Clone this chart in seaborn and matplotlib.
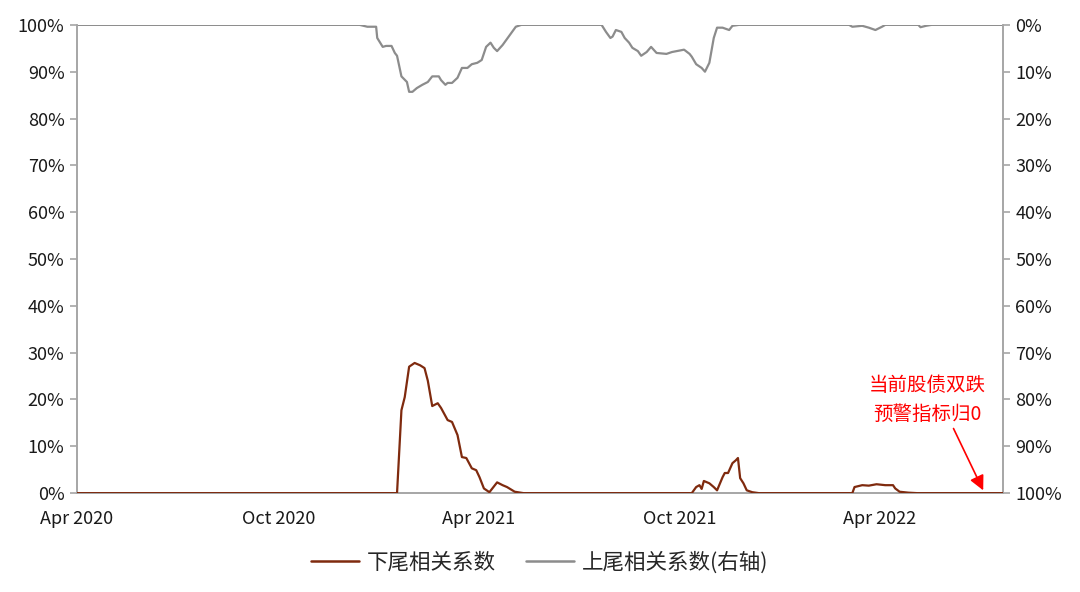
import matplotlib
matplotlib.use('Agg')
import matplotlib.pyplot as plt
import matplotlib.dates as mdates
from matplotlib.lines import Line2D
from matplotlib.ticker import FuncFormatter, MultipleLocator
import seaborn as sns
import pandas as pd

# 下尾相关系数 (left axis, %)
lower_dates = ['2020-04-01', '2021-01-17', '2021-01-21', '2021-01-24', '2021-01-28', '2021-02-02',
               '2021-02-07', '2021-02-11', '2021-02-14', '2021-02-18', '2021-02-23', '2021-02-26',
               '2021-03-04', '2021-03-08', '2021-03-13', '2021-03-17', '2021-03-21', '2021-03-26',
               '2021-03-30', '2021-04-02', '2021-04-06', '2021-04-11', '2021-04-18', '2021-04-23',
               '2021-04-27', '2021-05-04', '2021-05-12', '2021-10-12', '2021-10-16', '2021-10-19',
               '2021-10-21', '2021-10-23', '2021-10-28', '2021-11-01', '2021-11-04', '2021-11-09',
               '2021-11-11', '2021-11-14', '2021-11-18', '2021-11-21', '2021-11-23', '2021-11-25',
               '2021-11-28', '2021-12-01', '2021-12-06', '2021-12-12', '2022-03-07', '2022-03-09',
               '2022-03-16', '2022-03-22', '2022-03-29', '2022-04-06', '2022-04-13', '2022-04-15',
               '2022-04-19', '2022-04-27', '2022-05-05', '2022-07-22']
lower_vals = [0, 0, 17.7, 20.5, 27.0, 27.8,
              27.3, 26.7, 24.0, 18.6, 19.2, 18.2,
              15.6, 15.2, 12.4, 7.7, 7.5, 5.3,
              4.9, 3.4, 1.0, 0.2, 2.3, 1.7,
              1.3, 0.3, 0, 0, 1.3, 1.7,
              0.9, 2.6, 2.1, 1.3, 0.6, 3.4,
              4.3, 4.3, 6.4, 7.0, 7.5, 3.2,
              2.1, 0.6, 0.2, 0, 0, 1.3,
              1.7, 1.6, 1.9, 1.7, 1.7, 1.0,
              0.3, 0.1, 0, 0]

# 上尾相关系数 (right axis, inverted, %)
upper_dates = ['2020-04-01', '2020-12-14', '2020-12-21', '2020-12-29', '2020-12-30', '2021-01-04',
               '2021-01-07', '2021-01-12', '2021-01-15', '2021-01-17', '2021-01-21', '2021-01-26',
               '2021-01-28', '2021-01-31', '2021-02-04', '2021-02-09', '2021-02-14', '2021-02-18',
               '2021-02-24', '2021-02-26', '2021-03-02', '2021-03-04', '2021-03-08', '2021-03-13',
               '2021-03-17', '2021-03-22', '2021-03-26', '2021-03-31', '2021-04-04', '2021-04-08',
               '2021-04-12', '2021-04-15', '2021-04-18', '2021-04-23', '2021-04-27', '2021-05-01',
               '2021-05-05', '2021-05-10', '2021-07-22', '2021-07-26', '2021-07-30', '2021-08-01',
               '2021-08-04', '2021-08-09', '2021-08-12', '2021-08-16', '2021-08-19', '2021-08-24',
               '2021-08-27', '2021-09-01', '2021-09-05', '2021-09-10', '2021-09-19', '2021-09-24',
               '2021-10-05', '2021-10-10', '2021-10-12', '2021-10-16', '2021-10-21', '2021-10-24',
               '2021-10-28', '2021-11-01', '2021-11-04', '2021-11-09', '2021-11-15', '2021-11-18',
               '2021-11-24', '2022-03-04', '2022-03-07', '2022-03-16', '2022-03-22', '2022-03-28',
               '2022-04-03', '2022-04-06', '2022-05-06', '2022-05-08', '2022-05-13', '2022-05-18',
               '2022-07-22']
upper_vals = [0, 0, 0.4, 0.4, 2.8, 4.7,
              4.5, 4.5, 6.0, 6.6, 11.0, 12.2,
              14.3, 14.3, 13.5, 12.8, 12.2, 11.0,
              11.0, 11.8, 12.8, 12.4, 12.4, 11.3,
              9.2, 9.2, 8.4, 8.1, 7.5, 4.7,
              3.8, 4.9, 5.6, 4.3, 3.0, 1.7,
              0.4, 0, 0, 1.5, 2.8, 2.5,
              1.1, 1.5, 2.8, 3.8, 4.9, 5.6,
              6.6, 5.8, 4.7, 6.0, 6.2, 5.8,
              5.3, 6.2, 6.8, 8.4, 9.2, 10.0,
              8.1, 2.8, 0.6, 0.6, 1.1, 0.2,
              0, 0, 0.4, 0.2, 0.6, 1.1,
              0.4, 0, 0, 0.5, 0.2, 0,
              0]

x_ticks = ['2020-04-01', '2020-10-01', '2021-04-01', '2021-10-01', '2022-04-01']
legend_labels = ['下尾相关系数', '上尾相关系数(右轴)']
note_text = '当前股债双跌\n预警指标归0'

lower_df = pd.DataFrame({'date': pd.to_datetime(lower_dates), 'value': lower_vals})
upper_df = pd.DataFrame({'date': pd.to_datetime(upper_dates), 'value': upper_vals})

sns.set_theme(style='white')
plt.rcParams['font.family'] = ['Noto Sans CJK SC', 'DejaVu Sans']

brown = '#7F2A0E'
grey = '#8C8C8C'
spine_c = '#A6A6A6'

fig, ax = plt.subplots(figsize=(10.8, 5.92), dpi=100)
fig.subplots_adjust(left=0.0713, right=0.9287, top=0.958, bottom=0.167)
ax2 = ax.twinx()

sns.lineplot(data=lower_df, x='date', y='value', ax=ax, color=brown, linewidth=1.6, zorder=3)
sns.lineplot(data=upper_df, x='date', y='value', ax=ax2, color=grey, linewidth=1.6)
ax.set_zorder(ax2.get_zorder() + 1)
ax.patch.set_visible(False)

ax.set_xlim(pd.Timestamp('2020-04-01'), pd.Timestamp('2022-07-22'))
ax.set_ylim(0, 100)
ax2.set_ylim(100, 0)
pct = FuncFormatter(lambda v, p: f'{v:.0f}%')
for a in (ax, ax2):
    a.yaxis.set_major_locator(MultipleLocator(10))
    a.yaxis.set_major_formatter(pct)
    a.set_xlabel('')
    a.set_ylabel('')
    a.grid(False)
    for s in a.spines.values():
        s.set_color(spine_c)
        s.set_linewidth(1.2)
    a.spines['top'].set_visible(False)
    a.tick_params(axis='both', length=5, width=1.2, color=spine_c, labelsize=13,
                  labelcolor='#1a1a1a', pad=4, direction='out')

ax.set_xticks(pd.to_datetime(x_ticks))
ax.xaxis.set_major_formatter(mdates.DateFormatter('%b %Y'))
ax.tick_params(axis='x', pad=7)
ax.tick_params(axis='y', left=True)
ax2.tick_params(axis='y', right=True)

# red note with arrow pointing at the latest value
ax.text(pd.Timestamp('2022-05-14'), 20, note_text, ha='center', va='center',
        color='#FF0000', fontsize=14, linespacing=1.5)
ax.annotate('', xy=(pd.Timestamp('2022-07-04'), 0.6),
            xytext=(pd.Timestamp('2022-06-07'), 13.8),
            arrowprops=dict(arrowstyle='-|>', color='#FF0000', lw=1.2,
                            mutation_scale=22, shrinkA=0, shrinkB=0))

handles = [Line2D([], [], color=brown, lw=1.8), Line2D([], [], color=grey, lw=1.8)]
fig.legend(handles, legend_labels, loc='center', bbox_to_anchor=(0.5, 0.05), ncol=2,
           frameon=False, fontsize=15.5, handlelength=2.2, columnspacing=1.4, handletextpad=0.4)

plt.savefig('out.png', dpi=100)
